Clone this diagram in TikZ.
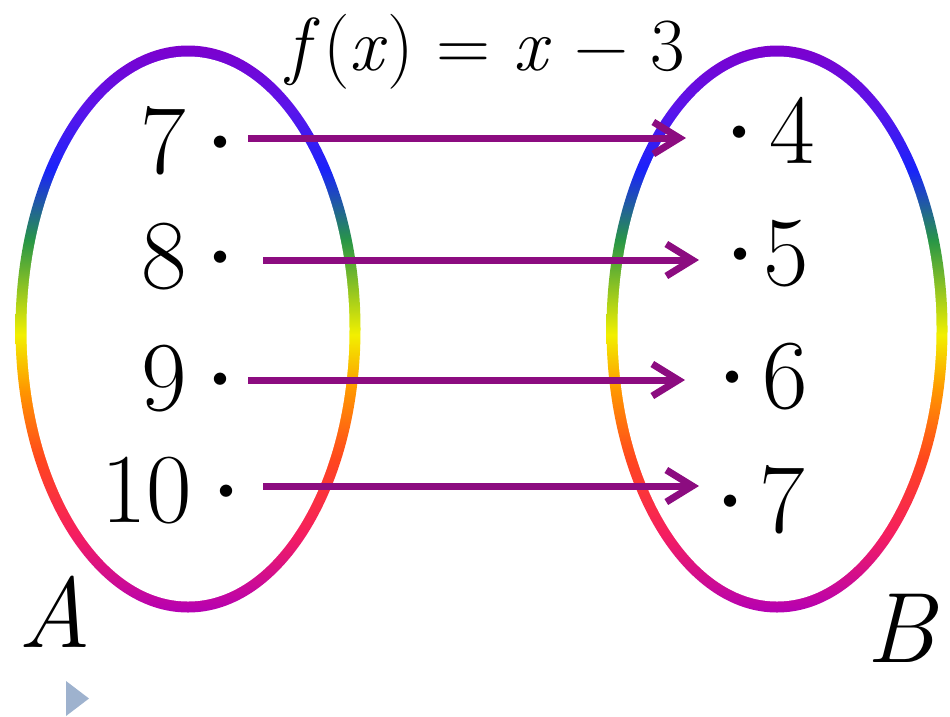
\documentclass[tikz,border=0pt]{standalone}
\usetikzlibrary{arrows.meta}
\definecolor{arrowc}{RGB}{140,12,128}
\definecolor{triblue}{RGB}{158,178,206}
\definecolor{cViolet}{RGB}{125,0,205}
\definecolor{cVioletB}{RGB}{90,20,235}
\definecolor{cBlue}{RGB}{25,35,250}
\definecolor{cGreen}{RGB}{40,150,70}
\definecolor{cYellow}{RGB}{242,240,0}
\definecolor{cOrange}{RGB}{255,150,0}
\definecolor{cRed}{RGB}{255,70,30}
\definecolor{cPink}{RGB}{245,30,95}
\definecolor{cMag}{RGB}{180,0,180}
\pgfdeclareverticalshading{rainbowring}{100bp}{color(0bp)=(cMag); color(25bp)=(cMag); color(32bp)=(cPink); color(38.5bp)=(cRed); color(44.6bp)=(cOrange); color(49.5bp)=(cYellow); color(57.8bp)=(cGreen); color(64bp)=(cBlue); color(69.3bp)=(cVioletB); color(75bp)=(cViolet); color(100bp)=(cViolet)}
\newcommand{\bigdot}{\raisebox{-20pt}[0pt][0pt]{\makebox[30pt][c]{\fontsize{150}{150}\selectfont ·}}}
\begin{document}
\begin{tikzpicture}[x=1pt,y=-1pt,
  num/.style={font=\fontsize{99}{99}\selectfont, inner sep=0pt, anchor=base west},
  setlabel/.style={font=\fontsize{100}{100}\selectfont\itshape, inner sep=0pt, anchor=base west},
  maparrow/.style={draw=arrowc, line width=7pt, -{Straight Barb[length=26pt,width=32pt]}},
]
\useasboundingbox[fill=white] (0,0) rectangle (950,716);
% rainbow ellipses (shaded outer ellipse, white inner ellipse)
\begin{scope}
  \clip (188,329) ellipse [x radius=172.5, y radius=283.5];
  \shade[shading=rainbowring] (15,45) rectangle (361,613);
\end{scope}
\fill[white] (188,329) ellipse [x radius=161.5, y radius=272.5];
\begin{scope}
  \clip (777,329) ellipse [x radius=170.5, y radius=283.5];
  \shade[shading=rainbowring] (606,45) rectangle (948,613);
\end{scope}
\fill[white] (777,329) ellipse [x radius=159.5, y radius=272.5];
% title
\node[anchor=base, inner sep=0pt, font=\fontsize{75}{75}\selectfont] (title) at (486,70) {\textit{f}\kern3pt(\textit{x}) = \textit{x} − 3};
% left elements
\node[num] (a7)  at (140.5,173) {7\kern19pt\bigdot};
\node[num] (a8)  at (141.5,288) {8\kern18pt\bigdot};
\node[num] (a9)  at (141.5,410) {9\kern18pt\bigdot};
\node[num] (a10) at (101,522)   {10\kern19pt\bigdot};
% right elements
\node[num] (b4) at (724,163) {\bigdot\kern15pt 4};
\node[num] (b5) at (725,285) {\bigdot\kern8pt 5};
\node[num] (b6) at (717,408) {\bigdot\kern15pt 6};
\node[num] (b7) at (715,532) {\bigdot\kern14pt 7};
% set labels
\node[setlabel] (A) at (18,647) {A};
\node[setlabel] (B) at (866,662) {B};
% arrows
\coordinate (s1) at (248,138); \coordinate (t1) at (686,138);
\coordinate (s2) at (263,260); \coordinate (t2) at (699,260);
\coordinate (s3) at (248,380); \coordinate (t3) at (685,380);
\coordinate (s4) at (263,486); \coordinate (t4) at (699,486);
\draw[maparrow] (s1) -- (t1);
\draw[maparrow] (s2) -- (t2);
\draw[maparrow] (s3) -- (t3);
\draw[maparrow] (s4) -- (t4);
% small marker triangle
\fill[triblue] (66,681) -- (89,698.5) -- (66,716) -- cycle;
\end{tikzpicture}
\end{document}
